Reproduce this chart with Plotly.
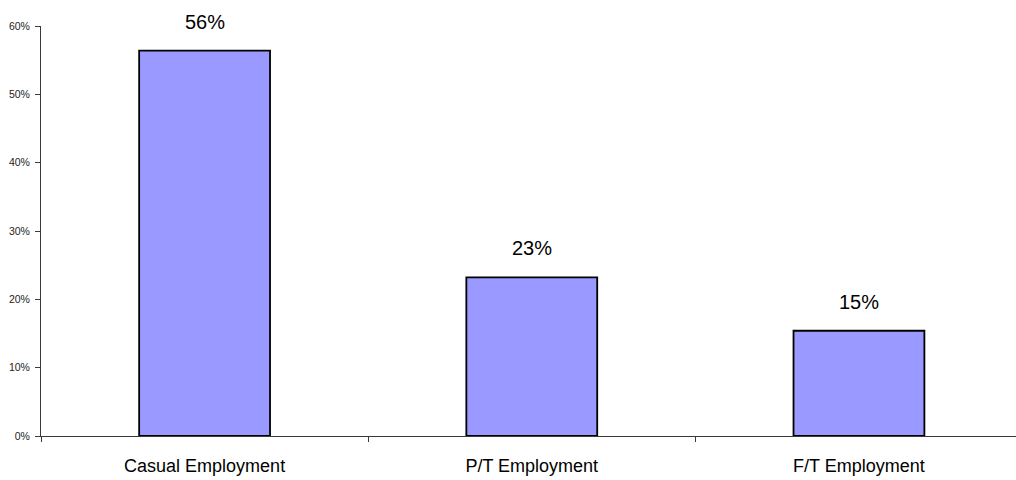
import plotly.graph_objects as go

# Share of respondents by type of employment
categories = ["Casual Employment", "P/T Employment", "F/T Employment"]
shares = [0.564, 0.232, 0.154]
y_ticks = [0, 0.1, 0.2, 0.3, 0.4, 0.5, 0.6]
y_tick_labels = ["0%", "10%", "20%", "30%", "40%", "50%", "60%"]

FONT = "Liberation Sans, Arial, sans-serif"
AXIS = "#3a3a3a"

fig = go.Figure(
    go.Bar(
        x=categories,
        y=shares,
        width=0.4,
        marker=dict(color="#9999FF", line=dict(color="#000000", width=1.8)),
        hoverinfo="skip",
    )
)

# value labels above each bar
for cat, val in zip(categories, shares):
    fig.add_annotation(
        x=cat, y=val, text=f"{round(val * 100)}%",
        showarrow=False, yanchor="bottom", yshift=16,
        font=dict(family=FONT, size=20, color="#000000"),
    )

fig.update_layout(
    width=1016, height=480,
    margin=dict(l=41, r=0, t=26, b=44),
    paper_bgcolor="#ffffff", plot_bgcolor="#ffffff",
    showlegend=False,
    font=dict(family=FONT, color="#000000"),
)
fig.update_xaxes(
    range=[-0.5, 2.48],
    showline=True, linecolor=AXIS, linewidth=1,
    ticks="outside", tickson="boundaries", ticklen=5, tickcolor=AXIS,
    showgrid=False, zeroline=False,
    tickfont=dict(family=FONT, size=18, color="#000000"),
    ticklabelstandoff=13,
)
fig.update_yaxes(
    range=[0, 0.6],
    tickvals=y_ticks, ticktext=y_tick_labels,
    showline=True, linecolor=AXIS, linewidth=1,
    ticks="outside", ticklen=5, tickcolor=AXIS,
    showgrid=False, zeroline=False,
    tickfont=dict(family=FONT, size=10.5, color="#222222"),
    ticklabelstandoff=3,
)

fig.write_html("out.html")
